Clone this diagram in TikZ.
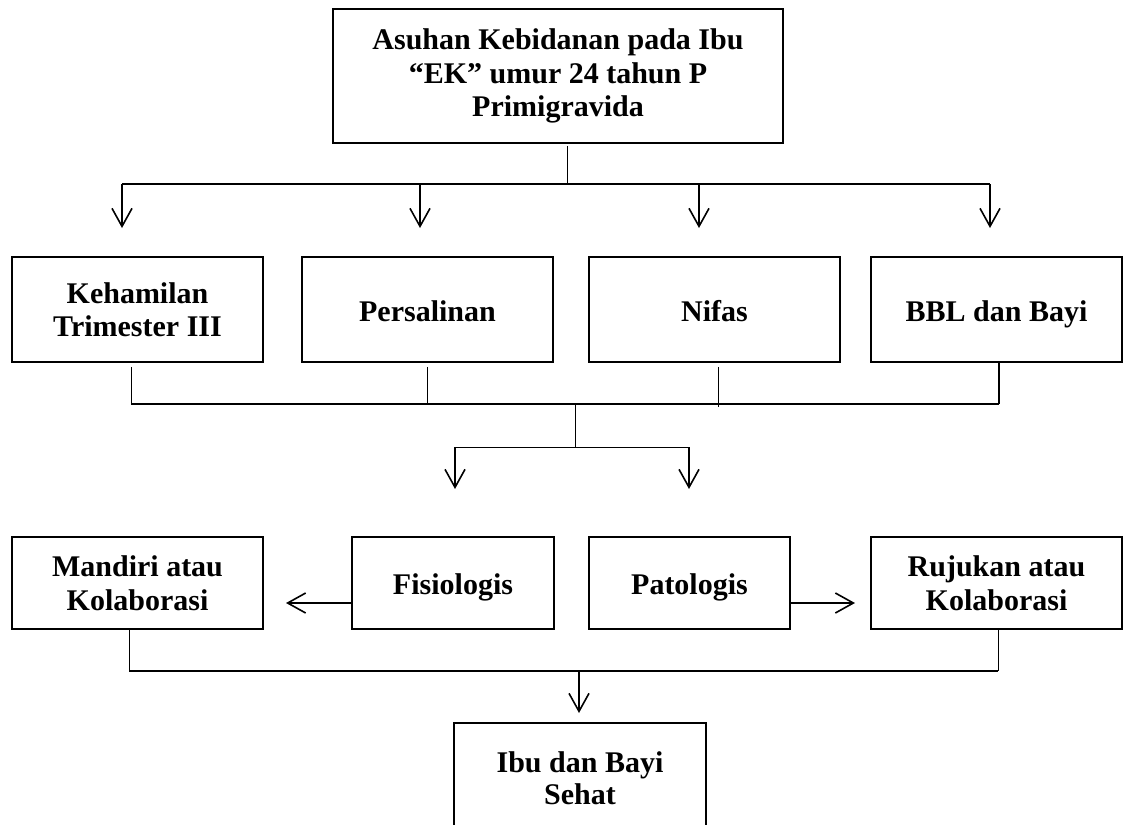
\documentclass[tikz,border=0pt]{standalone}
\usepackage{fontspec}
\setmainfont{Liberation Serif}
\usetikzlibrary{arrows.meta}
\begin{document}
\begin{tikzpicture}[x=1pt,y=-1pt,
  box/.style={draw,line width=1.6pt,inner sep=0pt,align=center,
    font=\bfseries\fontsize{30}{33.5}\selectfont},
  oneline/.style={text height=23.5pt,text depth=0pt},
  thinline/.style={line width=1pt},
  hline/.style={line width=2.2pt},
  arr/.style={line width=1.6pt,-{Straight Barb[length=18pt,width=20pt]}}]
\useasboundingbox (0,0) rectangle (1125,825);
% nodes
\node[box,minimum width=450pt,minimum height=134pt] (top) at (558,76) {Asuhan Kebidanan pada Ibu\\“EK” umur 24 tahun P\\Primigravida};
\node[box,minimum width=251pt,minimum height=105pt] (keh) at (137.5,309.5) {Kehamilan\\Trimester III};
\node[box,oneline,minimum width=251pt,minimum height=105pt] (per) at (427.5,309.5) {Persalinan};
\node[box,oneline,minimum width=251pt,minimum height=105pt] (nif) at (714.5,309.5) {Nifas};
\node[box,oneline,minimum width=251pt,minimum height=105pt] (bbl) at (996.5,309.5) {BBL dan Bayi};
\node[box,minimum width=251pt,minimum height=92pt] (man) at (137.5,583) {Mandiri atau\\Kolaborasi};
\node[box,oneline,minimum width=202pt,minimum height=92pt] (fis) at (453,583) {Fisiologis};
\node[box,oneline,minimum width=201pt,minimum height=92pt] (pat) at (689.5,583) {Patologis};
\node[box,minimum width=251pt,minimum height=92pt] (ruj) at (996.5,583) {Rujukan atau\\Kolaborasi};
\node[box,minimum width=252pt,minimum height=111pt,font=\bfseries\fontsize{30}{32}\selectfont] (ibu) at (580,778.5) {Ibu dan Bayi\\Sehat};
% junction coordinates
\coordinate (j1) at (567,184);
\coordinate (hl) at (122,184);
\coordinate (hr) at (990,184);
\coordinate (a1) at (122,228);
\coordinate (a2) at (420,228);
\coordinate (a3) at (699,228);
\coordinate (a4) at (990,228);
\coordinate (d1) at (131,404);
\coordinate (d2) at (427,404);
\coordinate (d3) at (718,404);
\coordinate (d4) at (999,404);
\coordinate (j2) at (575,404);
\coordinate (j3) at (575,447);
\coordinate (e1) at (455,447);
\coordinate (e2) at (689,447);
\coordinate (f1) at (455,489);
\coordinate (f2) at (689,489);
\coordinate (m1) at (286,603);
\coordinate (r1) at (855,603);
\coordinate (g1) at (129,671);
\coordinate (g2) at (998,671);
\coordinate (g3) at (579,671);
\coordinate (g4) at (579,713);
% top branch
\draw[thinline] ([yshift=-2pt]top.south -| j1) -- (j1);
\draw[hline] (hl) -- (hr);
\draw[arr] (hl) -- (a1);
\draw[arr] (a2 |- hl) -- (a2);
\draw[arr] (a3 |- hl) -- (a3);
\draw[arr] (hr) -- (a4);
% second row merge
\draw[thinline] ([yshift=-4pt]keh.south -| d1) -- (d1);
\draw[thinline] ([yshift=-4pt]per.south -| d2) -- (d2);
\draw[thinline] ([yshift=-4pt]nif.south -| d3) -- ([yshift=-3pt]d3);
\draw[line width=1.6pt] (bbl.south -| d4) -- (d4);
\draw[hline] (d1) -- (d4);
\draw[thinline] (j2) -- (j3);
\draw[thinline] (e1) -- (e2);
\draw[arr] (e1) -- (f1);
\draw[arr] (e2) -- (f2);
% third row
\draw[arr] (fis.west |- m1) -- (m1);
\draw[arr] (pat.east |- r1) -- (r1);
\draw[thinline] (man.south -| g1) -- (g1);
\draw[thinline] (ruj.south -| g2) -- (g2);
\draw[hline] (g1) -- (g2);
\draw[arr] (g3) -- (g4);
\end{tikzpicture}
\end{document}
